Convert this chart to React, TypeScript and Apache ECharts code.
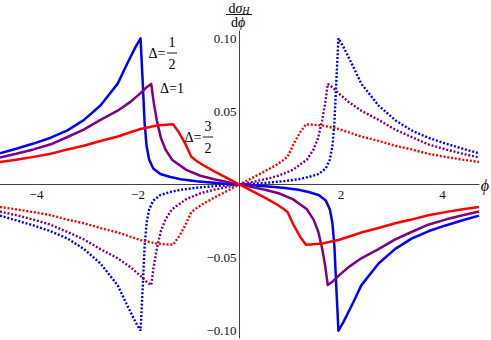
import React, { useEffect, useRef } from "react";
import * as echarts from "echarts";

// Δ = 1/2 (blue)
const halfX = [-4.72, -4.4, -4.06, -3.72, -3.39, -3.07, -2.74, -2.4, -2.25, -2.15, -2.05, -1.95, -1.91, -1.87, -1.83, -1.78, -1.7, -1.56, -1.36, -1.16, -0.85, -0.57, -0.3, 0, 0.3, 0.57, 0.85, 1.16, 1.36, 1.56, 1.7, 1.78, 1.83, 1.87, 1.91, 1.95, 2.05, 2.15, 2.25, 2.4, 2.74, 3.07, 3.39, 3.72, 4.06, 4.4, 4.72];
const halfY = [0.0213, 0.0245, 0.028, 0.032, 0.037, 0.044, 0.054, 0.069, 0.08, 0.087, 0.094, 0.1, 0.072, 0.042, 0.026, 0.017, 0.011, 0.0072, 0.0051, 0.0036, 0.0022, 0.0013, 0.0006, 0, -0.0006, -0.0013, -0.0022, -0.0036, -0.0051, -0.0072, -0.011, -0.017, -0.026, -0.042, -0.072, -0.1, -0.094, -0.087, -0.08, -0.069, -0.054, -0.044, -0.037, -0.032, -0.028, -0.0245, -0.0213];

// Δ = 1 (purple)
const oneX = [-4.72, -4.4, -4.06, -3.72, -3.39, -3.07, -2.74, -2.4, -2.15, -1.95, -1.85, -1.74, -1.69, -1.63, -1.55, -1.46, -1.33, -1.05, -0.77, -0.5, -0.25, 0, 0.25, 0.5, 0.77, 1.05, 1.33, 1.46, 1.55, 1.63, 1.69, 1.74, 1.85, 1.95, 2.15, 2.4, 2.74, 3.07, 3.39, 3.72, 4.06, 4.4, 4.72];
const oneY = [0.0185, 0.021, 0.024, 0.0275, 0.0325, 0.0375, 0.0442, 0.0505, 0.0565, 0.0625, 0.066, 0.0688, 0.056, 0.044, 0.032, 0.024, 0.017, 0.01, 0.006, 0.0036, 0.0017, 0, -0.0017, -0.0036, -0.006, -0.01, -0.017, -0.024, -0.032, -0.044, -0.056, -0.0688, -0.066, -0.0625, -0.0565, -0.0505, -0.0442, -0.0375, -0.0325, -0.0275, -0.024, -0.021, -0.0185];

// Δ = 3/2 (red)
const threeHalfX = [-4.72, -4.4, -4.06, -3.72, -3.39, -3.07, -2.74, -2.4, -2.15, -1.95, -1.63, -1.45, -1.31, -1.2, -1.07, -0.95, -0.85, -0.73, -0.47, -0.25, 0, 0.25, 0.47, 0.73, 0.85, 0.95, 1.07, 1.2, 1.31, 1.45, 1.63, 1.95, 2.15, 2.4, 2.74, 3.07, 3.39, 3.72, 4.06, 4.4, 4.72];
const threeHalfY = [0.0154, 0.017, 0.0189, 0.021, 0.024, 0.0265, 0.0298, 0.0328, 0.0357, 0.038, 0.0404, 0.0409, 0.0412, 0.036, 0.028, 0.019, 0.0163, 0.0135, 0.0085, 0.0045, 0, -0.0045, -0.0085, -0.0135, -0.0163, -0.019, -0.028, -0.036, -0.0412, -0.0409, -0.0404, -0.038, -0.0357, -0.0328, -0.0298, -0.0265, -0.024, -0.021, -0.0189, -0.017, -0.0154];

const xTicks = [-4, -2, 2, 4];
const yTicks = [-0.1, -0.05, 0.05, 0.1];

const BLUE = "#0000ff";
const PURPLE = "#800080";
const RED = "#ff0000";
const FONT = "Liberation Serif";

const GRID = { left: 0, right: 12, top: 31, bottom: 2 };
const W = 491;
const H = 340;

const minus = (s: string) => s.replace("-", "\u2212");

function pairs(xs: number[], ys: number[], sign: number) {
  return xs.map((x, i) => [x, sign * ys[i]]);
}

export default function App() {
  const ref = useRef<HTMLDivElement>(null);
  useEffect(() => {
    document.body.style.margin = "0";
    if (!ref.current) return;
    const chart = echarts.init(ref.current, null, { renderer: "svg" });
    const plotW = W - GRID.left - GRID.right;
    const plotH = H - GRID.top - GRID.bottom;
    const solid = (name: string, color: string, xs: number[], ys: number[]) => ({
      type: "line",
      name,
      data: pairs(xs, ys, 1),
      showSymbol: false,
      symbol: "none",
      lineStyle: { color, width: 2.5, join: "round" },
      z: 3,
    });
    const dotted = (name: string, color: string, xs: number[], ys: number[]) => ({
      type: "line",
      name,
      data: pairs(xs, ys, -1),
      showSymbol: false,
      symbol: "none",
      lineStyle: { color, width: 2.4, type: [2, 1.8], cap: "butt" },
      z: 2,
    });
    const txt = (x: number, y: number, text: string, extra: any = {}) => ({
      type: "text",
      x,
      y,
      style: {
        text,
        fontFamily: FONT,
        fontSize: 14,
        fill: "#000",
        align: "center",
        verticalAlign: "middle",
        ...extra,
      },
      z: 10,
    });
    const bar = (x1: number, x2: number, y: number) => ({
      type: "line",
      shape: { x1, y1: y, x2, y2: y },
      style: { stroke: "#000", lineWidth: 0.9 },
      z: 10,
    });
    chart.setOption({
      animation: false,
      grid: { ...GRID, containLabel: false, outerBoundsMode: "none" },
      xAxis: {
        type: "value",
        min: -4.72,
        max: 4.72,
        position: "bottom",
        offset: -plotH / 2,
        splitLine: { show: false },
        axisTick: { show: false },
        axisLine: { onZero: false, lineStyle: { color: "#444", width: 1 } },
        axisLabel: {
          customValues: xTicks,
          formatter: (v: number) => minus(String(v)),
          fontFamily: FONT,
          fontSize: 13,
          color: "#111",
          margin: 3,
        },
      },
      yAxis: {
        type: "value",
        min: -0.105,
        max: 0.105,
        position: "left",
        offset: -plotW / 2,
        splitLine: { show: false },
        axisTick: { show: false },
        axisLine: { onZero: false, lineStyle: { color: "#444", width: 1 } },
        axisLabel: {
          customValues: yTicks,
          formatter: (v: number) => minus(v.toFixed(2)),
          fontFamily: FONT,
          fontSize: 13,
          color: "#111",
          margin: 3,
        },
      },
      graphic: [
        {
          type: "text",
          x: 239,
          y: 8,
          style: {
            text: "d{i|σ}{s|H}",
            fontFamily: FONT,
            fontSize: 14,
            fill: "#000",
            align: "center",
            verticalAlign: "middle",
            rich: {
              i: { fontFamily: FONT, fontSize: 14, fontStyle: "italic" },
              s: { fontFamily: FONT, fontSize: 10, fontStyle: "italic", verticalAlign: "bottom", padding: [5, 0, 0, 0] },
            },
          },
          z: 10,
        },
        bar(226, 252, 14.5),
        {
          type: "text",
          x: 238,
          y: 22,
          style: {
            text: "d{i|ϕ}",
            fontFamily: FONT,
            fontSize: 14,
            fill: "#000",
            align: "center",
            verticalAlign: "middle",
            rich: { i: { fontFamily: FONT, fontSize: 14, fontStyle: "italic" } },
          },
          z: 10,
        },
        txt(485, 185, "ϕ", { fontStyle: "italic", fontSize: 16 }),
        // Δ = 1/2
        txt(157, 53, "Δ="),
        txt(172, 42, "1"),
        bar(167, 177, 53),
        txt(172, 64, "2"),
        // Δ = 1
        txt(172, 88, "Δ=1"),
        // Δ = 3/2
        txt(193, 137, "Δ="),
        txt(208, 126, "3"),
        bar(203, 213, 137),
        txt(208, 148, "2"),
      ],
      series: [
        dotted("dotHalf", BLUE, halfX, halfY),
        dotted("dotOne", PURPLE, oneX, oneY),
        dotted("dotThreeHalf", RED, threeHalfX, threeHalfY),
        solid("half", BLUE, halfX, halfY),
        solid("one", PURPLE, oneX, oneY),
        solid("threeHalf", RED, threeHalfX, threeHalfY),
      ],
    });
    return () => chart.dispose();
  }, []);
  return <div ref={ref} style={{ width: W, height: H }} />;
}
